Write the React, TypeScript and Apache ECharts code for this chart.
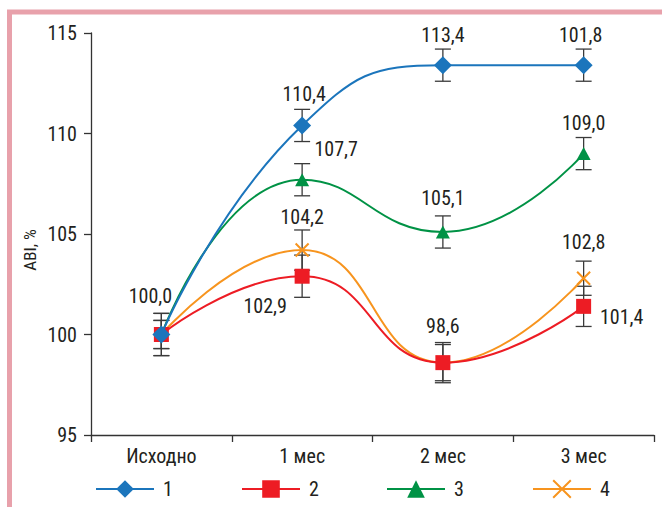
import React, { useEffect, useRef } from "react";
import * as echarts from "echarts";

// Follow-up periods
const categories = ["Исходно", "1 мес", "2 мес", "3 мес"];

// ABI, % for each group
const group1 = [100, 110.4, 113.4, 113.4];
const group2 = [100, 102.9, 98.6, 101.4];
const group3 = [100, 107.7, 105.1, 109.0];
const group4 = [100, 104.2, 98.6, 102.8];

// Error bar half-widths, in %
const err1 = [0.7, 0.8, 0.8, 0.8];
const err2 = [1.05, 1.05, 1.0, 1.0];
const err3 = [0.7, 0.8, 0.8, 0.8];
const err4 = [1.05, 1.0, 0.9, 0.85];

// Printed value labels (null = no label at that point)
const labels1 = ["100,0", "110,4", "113,4", "101,8"];
const labels2 = [null, "102,9", "98,6", "101,4"];
const labels3 = [null, "107,7", "105,1", "109,0"];
const labels4 = [null, "104,2", null, "102,8"];

const yTicks = [95, 100, 105, 110, 115];
const seriesNames = ["1", "2", "3", "4"];

const FONT = "'Roboto Condensed', Roboto, 'DejaVu Sans Condensed', sans-serif";
const FS = 20;
const TEXT = "#231f20";
const AXIS = "#333333";

const COLORS = ["#1b75bc", "#ed1c24", "#009245", "#f7941e"];

// label offsets relative to the marker centre
const offsets1 = [[-11, -39], [2, -31], [0, -30], [-3, -30]];
const offsets2 = [[0, 0], [-37, 30], [0, -37], [38, 11]];
const offsets3 = [[0, 0], [34, -31], [0, -34], [0, -31]];
const offsets4 = [[0, 0], [0, -33], [0, 0], [0, -36]];

// drawing order: blue on top, then red, green, orange
const zOrder = [6, 5, 4, 3];

function lineData(values: number[], labels: (string | null)[], offsets: number[][]) {
  return values.map((v, i) => ({
    value: v,
    label: labels[i]
      ? {
          show: true,
          position: "inside",
          offset: offsets[i],
          formatter: labels[i] as string,
          fontFamily: FONT,
          fontSize: FS,
          color: TEXT,
        }
      : { show: false },
  }));
}

function errorSeries(values: number[], errs: number[]) {
  return {
    type: "custom",
    z: 1,
    silent: true,
    encode: { x: 0, y: 1 },
    data: values.map((v, i) => [i, v, errs[i]]),
    renderItem: (_params: any, api: any) => {
      const i = api.value(0);
      const v = api.value(1);
      const e = api.value(2);
      const hi = api.coord([i, v + e]);
      const lo = api.coord([i, v - e]);
      const hw = 8;
      const style = { stroke: "#3a3a3a", lineWidth: 1.3 };
      return {
        type: "group",
        children: [
          { type: "line", shape: { x1: hi[0], y1: hi[1], x2: lo[0], y2: lo[1] }, style },
          { type: "line", shape: { x1: hi[0] - hw, y1: hi[1], x2: hi[0] + hw, y2: hi[1] }, style },
          { type: "line", shape: { x1: lo[0] - hw, y1: lo[1], x2: lo[0] + hw, y2: lo[1] }, style },
        ],
      };
    },
  };
}

const symbols = ["diamond", "rect", "triangle", "path://M0,0L10,10M10,0L0,10"];
const symbolSizes: any[] = [18, 15, [14, 13], 13];

export default function App() {
  const ref = useRef<HTMLDivElement>(null);

  useEffect(() => {
    document.body.style.margin = "0";
    if (!ref.current) return;
    const chart = echarts.init(ref.current, null, { renderer: "svg" });

    const lines = [
      { values: group1, labels: labels1, offsets: offsets1 },
      { values: group2, labels: labels2, offsets: offsets2 },
      { values: group3, labels: labels3, offsets: offsets3 },
      { values: group4, labels: labels4, offsets: offsets4 },
    ].map((g, k) => ({
      name: seriesNames[k],
      type: "line",
      z: zOrder[k],
      smooth: 0.5,
      data: lineData(g.values, g.labels, g.offsets),
      symbol: symbols[k],
      symbolSize: symbolSizes[k],
      lineStyle: { color: COLORS[k], width: 2 },
      itemStyle:
        k === 3
          ? { color: "#ffffff", borderColor: COLORS[k], borderWidth: 2 }
          : { color: COLORS[k], borderWidth: 0 },
    }));

    const legendLefts = [90, 236, 381, 527];

    chart.setOption({
      animation: false,
      backgroundColor: "#ffffff",
      grid: { left: 91, top: 33, right: 8, bottom: 72, containLabel: false },
      xAxis: {
        type: "category",
        data: categories,
        boundaryGap: true,
        axisLine: { lineStyle: { color: AXIS, width: 1.3 } },
        axisTick: { show: true, length: 7, lineStyle: { color: AXIS, width: 1.3 } },
        axisLabel: { fontFamily: FONT, fontSize: FS, color: TEXT, margin: 11 },
      },
      yAxis: {
        type: "value",
        min: yTicks[0],
        max: yTicks[yTicks.length - 1],
        interval: 5,
        axisLine: { show: true, lineStyle: { color: AXIS, width: 1.3 } },
        axisTick: { show: true, length: 7, lineStyle: { color: AXIS, width: 1.3 } },
        splitLine: { show: false },
        axisLabel: { fontFamily: FONT, fontSize: FS, color: TEXT, margin: 14 },
      },
      legend: seriesNames.map((n, k) => ({
        data: [n],
        left: legendLefts[k],
        top: 474,
        itemWidth: 58,
        itemHeight: 22,
        itemGap: 0,
        selectedMode: false,
        textStyle: { fontFamily: FONT, fontSize: FS, color: TEXT, padding: [0, 0, 0, 4] },
      })),
      graphic: [
        {
          type: "rect",
          silent: true,
          shape: { x: 9.5, y: 12, width: 700, height: 600 },
          style: { fill: "none", stroke: "#e8a1ab", lineWidth: 5 },
          z: 0,
        },
        {
          type: "text",
          x: 30,
          y: 250,
          rotation: Math.PI / 2,
          style: {
            text: "ABI, %",
            fontFamily: FONT,
            fontSize: 17,
            fill: TEXT,
            textAlign: "center",
            textVerticalAlign: "middle",
          },
        },
      ],
      series: [
        errorSeries(group1, err1),
        errorSeries(group2, err2),
        errorSeries(group3, err3),
        errorSeries(group4, err4),
        ...lines,
      ],
    });

    return () => chart.dispose();
  }, []);

  return <div ref={ref} style={{ width: 662, height: 507 }} />;
}
